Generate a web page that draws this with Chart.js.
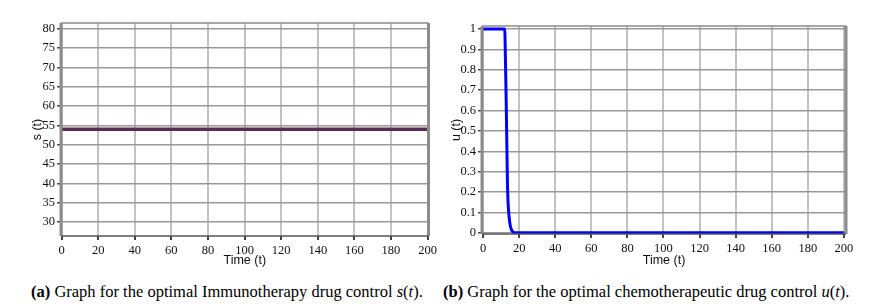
<!DOCTYPE html>
<html>
<head>
<meta charset="utf-8">
<script src="https://cdn.jsdelivr.net/npm/chart.js@4.4.1/dist/chart.umd.min.js"></script>
<style>
  html, body { margin: 0; padding: 0; background: #fff; }
  body { width: 882px; height: 308px; position: relative; overflow: hidden; }
  .panel { position: absolute; top: 0; }
  .caption {
    position: absolute; top: 282px; white-space: nowrap;
    font-family: "Liberation Serif", "Times New Roman", serif; font-size: 16.5px; color: #000;
  }
  .caption i { font-style: italic; }
</style>
</head>
<body>
<div class="panel" style="left:0"><canvas id="chart-s" width="440" height="270"></canvas></div>
<div class="panel" style="left:440px"><canvas id="chart-u" width="442" height="270"></canvas></div>
<div class="caption" style="left:31px"><b>(a)</b> Graph for the optimal Immunotherapy drug control <i>s</i>(<i>t</i>).</div>
<div class="caption" style="left:443px"><b>(b)</b> Graph for the optimal chemotherapeutic drug control <i>u</i>(<i>t</i>).</div>
<script>
  'use strict';

  /* ── Data ─────────────────────────────────────── */

  const X_TICKS = [0, 20, 40, 60, 80, 100, 120, 140, 160, 180, 200];

  // (a) immunotherapy control s(t)
  const sTime = [0, 50, 100, 150, 200];
  const sValues = [54, 54, 54, 54, 54];
  const S_TICKS = [30, 35, 40, 45, 50, 55, 60, 65, 70, 75, 80];

  // (b) chemotherapeutic control u(t)
  const uTime = [0, 12, 12.4, 12.8, 13.2, 13.5, 13.8, 14.2, 14.8, 15.5, 16.5, 18, 200];
  const uValues = [1, 1, 0.85, 0.65, 0.42, 0.25, 0.16, 0.1, 0.05, 0.02, 0.005, 0, 0];
  const U_TICKS = [0, 0.1, 0.2, 0.3, 0.4, 0.5, 0.6, 0.7, 0.8, 0.9, 1];

  /* ── Shared styling ───────────────────────────── */

  const tickFont = { family: '"Liberation Serif", "Times New Roman", serif', size: 12.5 };
  const titleFont = { family: '"Liberation Sans", Arial, sans-serif', size: 12.5 };

  // frame around the plot area (thick gray sides like the original)
  const framePlugin = {
    id: 'frame',
    afterDatasetsDraw(chart) {
      const { ctx, chartArea: a } = chart;
      ctx.save();
      ctx.strokeStyle = '#8a8a8a';
      ctx.lineWidth = 1.5;
      ctx.beginPath();
      ctx.moveTo(a.left, a.top); ctx.lineTo(a.right, a.top);
      ctx.stroke();
      ctx.lineWidth = 3;
      ctx.strokeStyle = '#8c8c8c';
      ctx.beginPath();
      ctx.moveTo(a.left, a.top); ctx.lineTo(a.left, a.bottom);
      ctx.moveTo(a.right, a.top); ctx.lineTo(a.right, a.bottom);
      ctx.stroke();
      ctx.lineWidth = 1.5;
      ctx.strokeStyle = '#555';
      ctx.beginPath();
      ctx.moveTo(a.left, a.bottom); ctx.lineTo(a.right, a.bottom);
      ctx.stroke();
      ctx.restore();
    },
  };

  function toPoints(xs, ys) {
    return xs.map((x, i) => ({ x, y: ys[i] }));
  }

  function makeChart(canvas, cfg) {
    return new Chart(canvas, {
      type: 'line',
      data: {
        datasets: [{
          data: toPoints(cfg.xs, cfg.ys),
          borderColor: cfg.color,
          borderWidth: cfg.width,
          pointRadius: 0,
          cubicInterpolationMode: 'monotone',
        }],
      },
      options: {
        responsive: false,
        animation: false,
        devicePixelRatio: 1,
        layout: { padding: cfg.padding },
        plugins: { legend: { display: false }, tooltip: { enabled: false } },
        scales: {
          x: {
            type: 'linear',
            min: cfg.xMin, max: cfg.xMax,
            afterBuildTicks: (s) => { s.ticks = X_TICKS.map((v) => ({ value: v })); },
            afterFit: (s) => { s.height = cfg.xHeight; },
            ticks: { font: tickFont, color: '#111', padding: 3, maxRotation: 0, callback: (v) => String(v) },
            grid: { color: '#c2c2c2', lineWidth: 2, tickLength: 4, tickColor: '#444' },
            border: { display: false },
            title: { display: true, text: 'Time (t)', font: titleFont, color: '#111', padding: { top: 0, bottom: 2 } },
          },
          y: {
            min: cfg.yMin, max: cfg.yMax,
            afterBuildTicks: (s) => { s.ticks = cfg.yTicks.map((v) => ({ value: v })); },
            afterFit: (s) => { s.width = cfg.yWidth; },
            ticks: { font: tickFont, color: '#111', padding: 2, callback: (v) => String(v) },
            grid: { color: '#999', lineWidth: 1.5, tickLength: 4, tickColor: '#444' },
            border: { display: false },
            title: { display: true, text: cfg.yTitle, font: titleFont, color: '#111', padding: { top: 0, bottom: 0 } },
          },
        },
      },
      plugins: [framePlugin],
    });
  }

  makeChart(document.getElementById('chart-s'), {
    xs: sTime, ys: sValues, color: '#5b2b5a', width: 3.5,
    xMin: -0.3, xMax: 200.5, yMin: 26.4, yMax: 81.5, yTicks: S_TICKS,
    yTitle: 's (t)',
    padding: { left: 30, top: 23, right: 11, bottom: 0 },
    yWidth: 31, xHeight: 34,
  });

  makeChart(document.getElementById('chart-u'), {
    xs: uTime, ys: uValues, color: '#0000ff', width: 3,
    xMin: -0.6, xMax: 201.2, yMin: -0.006, yMax: 1.015, yTicks: U_TICKS,
    yTitle: 'u (t)',
    padding: { left: 9, top: 26, right: 36, bottom: 0 },
    yWidth: 33, xHeight: 36,
  });
</script>
</body>
</html>
